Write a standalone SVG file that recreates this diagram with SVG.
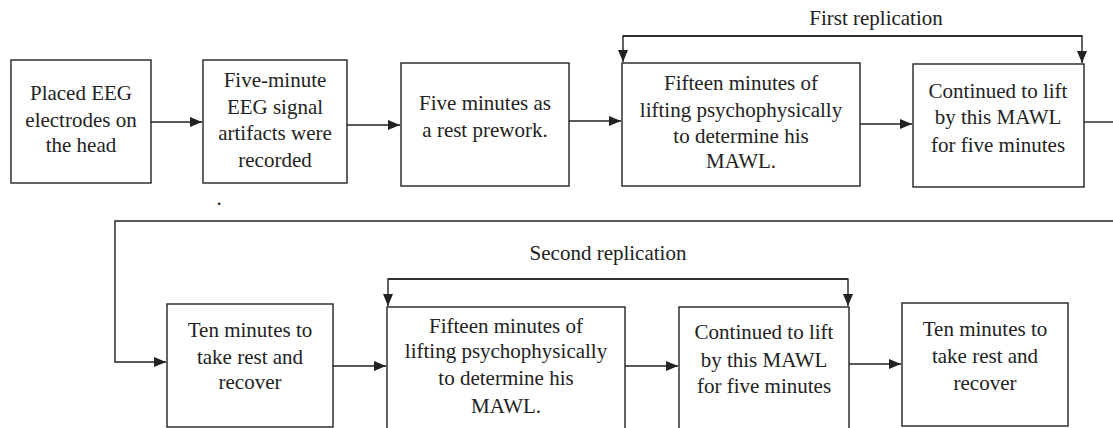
<svg xmlns="http://www.w3.org/2000/svg" width="1113" height="428" viewBox="0 0 1113 428">
<style>
.box{fill:#fff;stroke:#222;stroke-width:1.4}
.ln{fill:none;stroke:#222;stroke-width:1.4}
text{font-family:"Liberation Serif","Times New Roman",serif;font-size:21px;fill:#222;text-anchor:middle}
</style>
<defs>
<marker id="ah" viewBox="0 0 12 10" refX="12" refY="5" markerWidth="12" markerHeight="10" markerUnits="userSpaceOnUse" orient="auto">
<path d="M0,0 L12,5 L0,10 Z" fill="#222"/>
</marker>
</defs>
<rect width="1113" height="428" fill="#fff"/>
<g id="connectors">
<path class="ln" d="M151,122 H202" marker-end="url(#ah)"/>
<path class="ln" d="M347,125 H400" marker-end="url(#ah)"/>
<path class="ln" d="M569,121 H621" marker-end="url(#ah)"/>
<path class="ln" d="M860,124 H912" marker-end="url(#ah)"/>
<path class="ln" d="M1082,36 H623 V62" marker-end="url(#ah)"/>
<path class="ln" d="M623,36 H1082 V63" marker-end="url(#ah)"/>
<path class="ln" d="M1084,122 H1113"/>
<path class="ln" d="M1113,221 H115 V362 H166" marker-end="url(#ah)"/>
<path class="ln" d="M333,366 H386" marker-end="url(#ah)"/>
<path class="ln" d="M848,279 H388 V306" marker-end="url(#ah)"/>
<path class="ln" d="M388,279 H848 V306" marker-end="url(#ah)"/>
<path class="ln" d="M625,366 H678" marker-end="url(#ah)"/>
<path class="ln" d="M849,364 H901" marker-end="url(#ah)"/>
<text x="876" y="25">First replication</text>
<text x="608" y="260">Second replication</text>
<text x="219" y="205">.</text>
</g>
<g id="n1"><rect class="box" x="11" y="60" width="140" height="123"/>
<text x="81" y="100">Placed EEG</text><text x="81" y="127">electrodes on</text><text x="81" y="152">the head</text></g>
<g id="n2"><rect class="box" x="203" y="60" width="144" height="123"/>
<text x="275" y="87">Five-minute</text><text x="275" y="114">EEG signal</text><text x="275" y="140">artifacts were</text><text x="275" y="167">recorded</text></g>
<g id="n3"><rect class="box" x="401" y="63" width="168" height="123"/>
<text x="485" y="110">Five minutes as</text><text x="485" y="137">a rest prework.</text></g>
<g id="n4"><rect class="box" x="622" y="63" width="238" height="123"/>
<text x="741" y="90">Fifteen minutes of</text><text x="741" y="117">lifting psychophysically</text><text x="741" y="143">to determine his</text><text x="741" y="168">MAWL.</text></g>
<g id="n5"><rect class="box" x="913" y="64" width="171" height="123"/>
<text x="998" y="98">Continued to lift</text><text x="998" y="124">by this MAWL</text><text x="998" y="152">for five minutes</text></g>
<g id="n6"><rect class="box" x="167" y="304" width="166" height="123"/>
<text x="250" y="337">Ten minutes to</text><text x="250" y="364">take rest and</text><text x="250" y="389">recover</text></g>
<g id="n7"><rect class="box" x="387" y="307" width="238" height="140"/>
<text x="506" y="333">Fifteen minutes of</text><text x="506" y="358">lifting psychophysically</text><text x="506" y="385">to determine his</text><text x="506" y="413">MAWL.</text></g>
<g id="n8"><rect class="box" x="679" y="307" width="170" height="140"/>
<text x="764" y="339">Continued to lift</text><text x="764" y="367">by this MAWL</text><text x="764" y="393">for five minutes</text></g>
<g id="n9"><rect class="box" x="902" y="303" width="166" height="123"/>
<text x="985" y="336">Ten minutes to</text><text x="985" y="363">take rest and</text><text x="985" y="390">recover</text></g>
</svg>
